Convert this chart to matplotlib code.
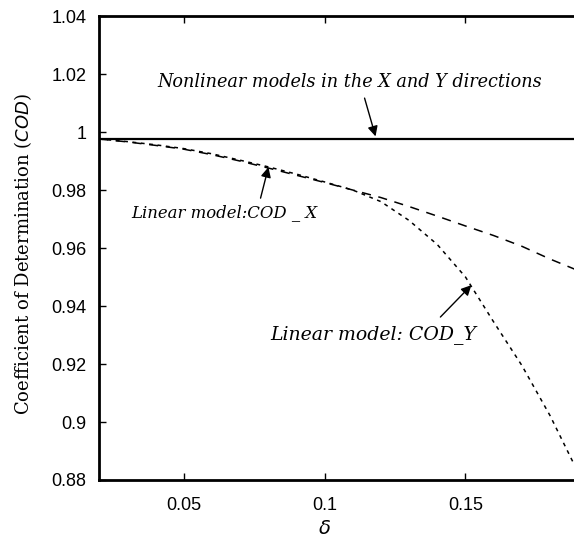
import matplotlib
matplotlib.use("Agg")
import matplotlib.pyplot as plt

# Perturbation level and coefficient of determination for each model
delta = [0.02, 0.03, 0.04, 0.05, 0.06, 0.07, 0.08, 0.09, 0.10, 0.11,
         0.12, 0.13, 0.14, 0.15, 0.16, 0.17, 0.18, 0.19]
cod_nonlinear = [0.9975] * len(delta)
cod_x = [0.9976, 0.9966, 0.9954, 0.9941, 0.9922, 0.9900, 0.9876, 0.9851, 0.9826,
         0.9800, 0.9774, 0.9743, 0.9710, 0.9676, 0.9643, 0.9606, 0.9562, 0.9522]
cod_y = [0.9976, 0.9967, 0.9956, 0.9943, 0.9925, 0.9903, 0.9880, 0.9855, 0.9828,
         0.9800, 0.9760, 0.9695, 0.9612, 0.9500, 0.9345, 0.9195, 0.9022, 0.8825]

x_ticks = [0.05, 0.1, 0.15]
x_tick_labels = ["0.05", "0.1", "0.15"]
y_ticks = [0.88, 0.9, 0.92, 0.94, 0.96, 0.98, 1.0, 1.02, 1.04]
y_tick_labels = ["0.88", "0.9", "0.92", "0.94", "0.96", "0.98", "1", "1.02", "1.04"]

fig = plt.figure(figsize=(5.74, 5.42), dpi=100)
ax = fig.add_axes([0.1725, 0.1144, 0.884, 0.856])

ax.plot(delta, cod_nonlinear, color="black", lw=1.6, solid_capstyle="butt")
ax.plot(delta, cod_x, color="black", lw=1.1, dashes=(6, 5))
ax.plot(delta, cod_y, color="black", lw=1.1, dashes=(2.5, 3))

ax.set_xlim(0.02, 0.2)
ax.set_ylim(0.88, 1.04)
ax.set_xticks(x_ticks)
ax.set_xticklabels(x_tick_labels, family="Liberation Sans", fontsize=13)
ax.set_yticks(y_ticks)
ax.set_yticklabels(y_tick_labels, family="Liberation Sans", fontsize=13)
ax.tick_params(axis="x", direction="in", length=5, width=1, top=True, pad=12)
ax.tick_params(axis="y", direction="in", length=5, width=1, right=False, pad=9)
for side in ("left", "bottom", "top"):
    ax.spines[side].set_linewidth(2)
ax.spines["right"].set_visible(False)

ax.set_xlabel(r"$\delta$", fontsize=14)
ax.xaxis.set_label_coords((0.1 - 0.02) / 0.18, -0.083)
ax.set_ylabel("Coefficient of Determination ($\\it{COD}$)", family="DejaVu Serif",
              fontsize=13)
ax.yaxis.set_label_coords(-0.128, 0.487)

txt = dict(family="DejaVu Serif", style="italic", ha="center", va="center")
arrow = dict(arrowstyle="-|>", color="black", lw=1, mutation_scale=15,
             shrinkA=0, shrinkB=0)

ax.text(0.1089, 1.0172, "Nonlinear models in the X and Y directions", fontsize=12.7, **txt)
ax.annotate("", xy=(0.1181, 0.9985), xytext=(0.1142, 1.0117), arrowprops=arrow)

ax.text(0.0645, 0.9721, "Linear model:COD _ X", fontsize=11.9, **txt)
ax.annotate("", xy=(0.0801, 0.9879), xytext=(0.0773, 0.9772), arrowprops=arrow)

ax.text(0.1174, 0.9300, "Linear model: COD_Y", fontsize=13.6, **txt)
ax.annotate("", xy=(0.1521, 0.9472), xytext=(0.1411, 0.9362), arrowprops=arrow)

fig.savefig("out.png", dpi=100)
